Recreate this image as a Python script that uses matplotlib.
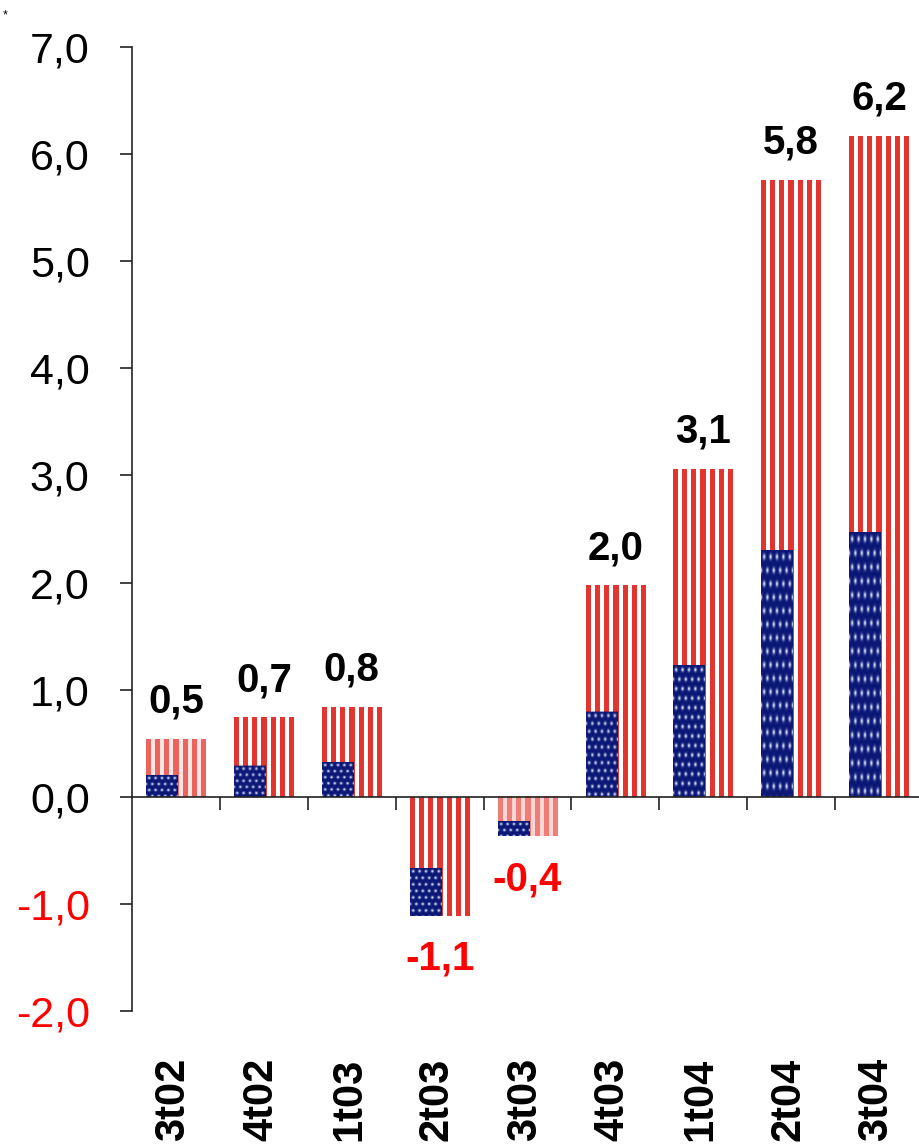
import numpy as np
import matplotlib
matplotlib.use("Agg")
import matplotlib.pyplot as plt
from matplotlib.transforms import blended_transform_factory

plt.rcParams['font.family'] = ['Liberation Sans', 'DejaVu Sans']

# -----------------------------
# DATA
# -----------------------------
quarters = ['3t02', '4t02', '1t03', '2t03', '3t03', '4t03', '1t04', '2t04', '3t04']
totals = [0.54, 0.74, 0.84, -1.11, -0.37, 1.97, 3.06, 5.76, 6.17]
blue_part = [0.21, 0.29, 0.33, 0.45, 0.14, 0.79, 1.23, 2.31, 2.47]
y_ticks = [-2, -1, 0, 1, 2, 3, 4, 5, 6, 7]

# washed-out look of the two smallest flags
fade = [0.35, 0, 0, 0, 0.55, 0, 0, 0, 0]

RED = np.array([0.89, 0.21, 0.19])
WHITE = np.array([1.0, 1.0, 1.0])
PINK = np.array([0.97, 0.72, 0.70])
NAVY = np.array([0.04, 0.09, 0.46])
STAR = np.array([0.86, 0.89, 1.0])


def fmt(v):
    return f"{v:.1f}".replace('.', ',')


# -----------------------------
# FLAG TEXTURE
# -----------------------------
def flag_texture(w_px, h_px, canton_px, f=0.0):
    xs = (np.arange(w_px) + 0.5) / w_px * 59.0
    pos = xs % 9.0
    is_red = pos < 5.0
    col = np.where(is_red[:, None], RED, WHITE)
    if f > 0:
        col = col * (1 - f) + PINK * f
    img = np.tile(col[None, :, :], (h_px, 1, 1)).astype(float)

    cw = int(round(w_px * 0.53))
    ch = min(canton_px, h_px)
    if ch > 0:
        yy, xx = np.mgrid[0:ch, 0:cw] + 0.5
        sy = np.clip(6.5 + (ch - 47) * 0.035, 6.0, 14.0)
        sx = cw / 5.0
        r = np.floor(yy / sy)
        cy = (r + 0.5) * sy
        off = np.where(r % 2 == 0, 0.0, sx / 2)
        cx = (np.floor((xx - off) / sx) + 0.5) * sx + off
        d2 = ((xx - cx) / 1.4) ** 2 + ((yy - cy) / (1.4 * sy / 6.5)) ** 2
        a = np.exp(-d2) * 0.95
        sub = NAVY * (1 - a[..., None]) + STAR * a[..., None]
        img[h_px - ch:, :cw] = sub
    return img


# -----------------------------
# FIGURE
# -----------------------------
fig = plt.figure(figsize=(9.19, 11.46), dpi=100)
ax = fig.add_axes([132 / 919, 1 - 1011 / 1146, 791 / 919, 964 / 1146])

x = np.arange(len(quarters))
bw = 0.68
bars = ax.bar(x, totals, width=bw, color='none', edgecolor='none')

ax.set_xlim(-0.5, len(quarters) - 0.5)
ax.set_ylim(-2, 7)

fig.canvas.draw()
p0 = ax.transData.transform((0, 0))
p1 = ax.transData.transform((1, 1))
px_x = p1[0] - p0[0]
px_y = p1[1] - p0[1]

for i, rect in enumerate(bars):
    x0 = rect.get_x()
    w = rect.get_width()
    y0 = rect.get_y()
    h = rect.get_height()
    lo, hi = min(y0, y0 + h), max(y0, y0 + h)
    w_px = int(round(w * px_x))
    h_px = max(2, int(round((hi - lo) * px_y)))
    c_px = int(round(blue_part[i] * px_y))
    img = flag_texture(w_px, h_px, c_px, fade[i])
    ax.imshow(img, extent=(x0, x0 + w, lo, hi), aspect='auto',
              interpolation='bilinear', zorder=2)

ax.set_xlim(-0.5, len(quarters) - 0.5)
ax.set_ylim(-2, 7)
ax.set_aspect('auto')

# value labels
for i, v in enumerate(totals):
    if v >= 0:
        ax.annotate(fmt(v), (x[i], v), xytext=(0, 19), textcoords='offset points',
                    ha='center', va='baseline', fontsize=29, fontweight='bold',
                    color='black')
    else:
        ax.annotate(fmt(v), (x[i], v), xytext=(0, -17), textcoords='offset points',
                    ha='center', va='top', fontsize=29, fontweight='bold',
                    color='#ff0000')

# axes styling
for s in ['top', 'right']:
    ax.spines[s].set_visible(False)
ax.spines['bottom'].set_position(('data', 0))
ax.spines['bottom'].set_zorder(3)
for s in ['left', 'bottom']:
    ax.spines[s].set_linewidth(1.2)
    ax.spines[s].set_color('#222222')

ax.set_xticks(x[:-1] + 0.5)
ax.set_xticklabels([])
ax.tick_params(axis='x', length=9.5, width=1.2, direction='out', color='#222222')

ax.set_yticks(y_ticks)
ax.set_yticklabels([fmt(v) for v in y_ticks], fontsize=31)
for lbl, v in zip(ax.get_yticklabels(), y_ticks):
    lbl.set_color('#ff0000' if v < 0 else 'black')
ax.tick_params(axis='y', length=8.5, width=1.2, pad=22, direction='out', color='#222222')

# category labels at the bottom
trans = blended_transform_factory(ax.transData, ax.transAxes)
for i, q in enumerate(quarters):
    ax.annotate(q, (x[i], 0), xycoords=trans, xytext=(-2, -34),
                textcoords='offset points', rotation=90, ha='center', va='top',
                fontsize=30, fontweight='bold')

fig.text(0.003, 0.992, '*', fontsize=9, va='top', ha='left')

fig.savefig('out.png', dpi=100)
